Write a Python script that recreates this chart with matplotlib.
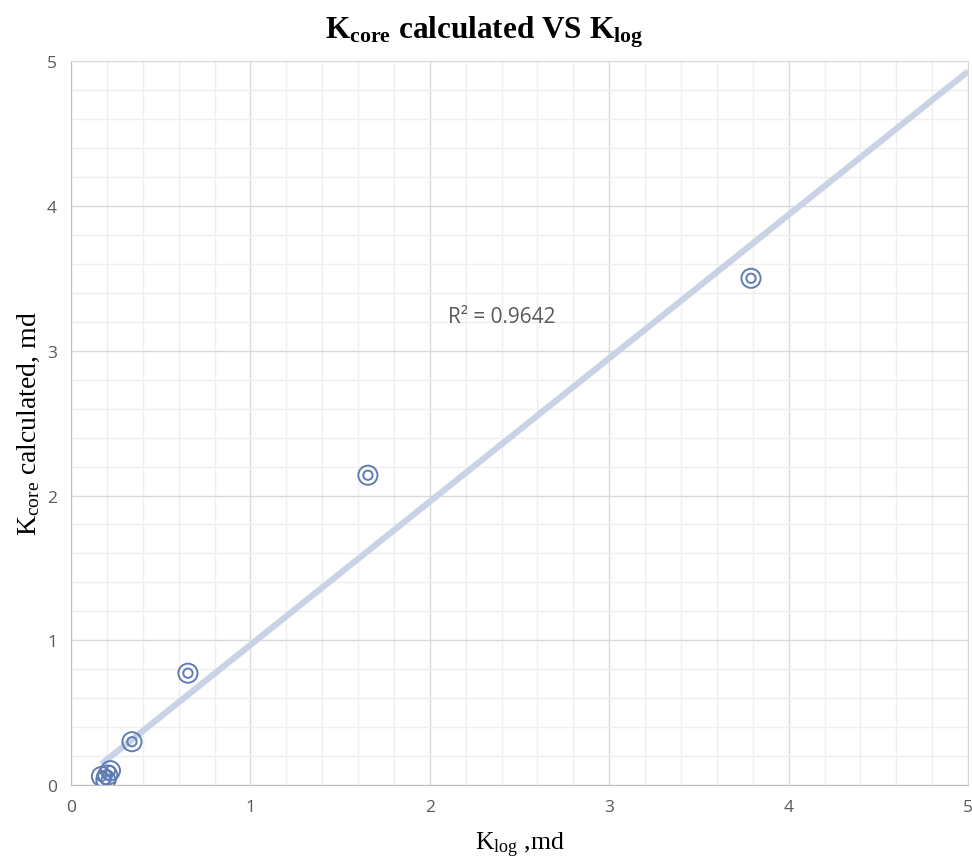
import numpy as np
import matplotlib.pyplot as plt
from matplotlib.ticker import MultipleLocator

plt.rcParams['mathtext.fontset'] = 'custom'
plt.rcParams['mathtext.rm'] = 'Liberation Serif'
plt.rcParams['mathtext.bf'] = 'Liberation Serif:bold'
plt.rcParams['mathtext.it'] = 'Liberation Serif:italic'

# data
k_log = [0.17, 0.22, 0.195, 0.205, 0.34, 0.652, 1.655, 3.79]
k_core = [0.06, 0.10, 0.035, 0.07, 0.30, 0.773, 2.14, 3.50]
r2_text = "R² = 0.9642"

x = np.array(k_log)
y = np.array(k_core)
slope, intercept = np.polyfit(x, y, 1)

fig = plt.figure(figsize=(9.72, 8.62), dpi=100)
ax = fig.add_axes([0.073, 0.088, 0.923, 0.84])

# trendline
xt = np.array([x.min(), 5.0])
ax.plot(xt, slope * xt + intercept, color='#c9d3e5', lw=4.5, solid_capstyle='butt', zorder=2)

# double ring markers
mc = '#5f7cb4'
ax.scatter(x, y, s=190, facecolors='none', edgecolors=mc, linewidths=1.4, zorder=3)
ax.scatter(x, y, s=45, facecolors='none', edgecolors=mc, linewidths=1.4, zorder=3)

ax.set_xlim(0, 5)
ax.set_ylim(0, 5)
ax.xaxis.set_major_locator(MultipleLocator(1))
ax.yaxis.set_major_locator(MultipleLocator(1))
ax.xaxis.set_minor_locator(MultipleLocator(0.2))
ax.yaxis.set_minor_locator(MultipleLocator(0.2))
ax.grid(True, which='major', color='#d9d9d9', lw=1.0, zorder=0)
ax.grid(True, which='minor', color='#efefef', lw=1.0, zorder=0)
ax.set_axisbelow(True)
for s in ['left', 'bottom']:
    ax.spines[s].set_color('#bfbfbf')
for s in ['top', 'right']:
    ax.spines[s].set_color('#d9d9d9')
ax.tick_params(which='both', length=0, labelsize=12.5, labelcolor='#595959', pad=10)
for lab in ax.get_xticklabels() + ax.get_yticklabels():
    lab.set_family('Open Sans')

ax.text(2.1, 3.2, r2_text, fontsize=15, color='#595959', family='Open Sans')

serif = 'Liberation Serif'
fig.text(0.498, 0.963, r'$\mathbf{K_{core}}$ calculated VS $\mathbf{K_{log}}$', fontsize=22.5,
         fontweight='bold', family=serif, ha='center', va='center')
ax.set_xlabel(r'$\mathregular{K_{log}}$ ,md', fontsize=18.5, family=serif, labelpad=11)
ax.set_ylabel(r'$\mathregular{K_{core}}$ calculated, md', fontsize=20, family=serif, labelpad=4)

fig.savefig('out.png', dpi=100)
